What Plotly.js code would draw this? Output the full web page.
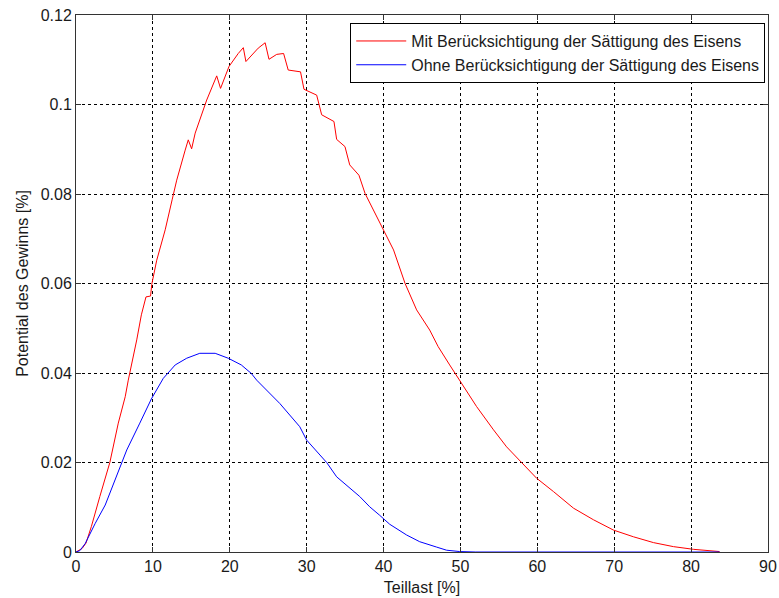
<!DOCTYPE html>
<html>
<head>
<meta charset="utf-8">
<script src="https://cdn.plot.ly/plotly-3.0.1.min.js"></script>
<style>html,body{margin:0;padding:0;background:#fff;}#chart{width:779px;height:598px;}</style>
</head>
<body>
<div id="chart"></div>
<script>
const seriesNames = ["Mit Berücksichtigung der Sättigung des Eisens", "Ohne Berücksichtigung der Sättigung des Eisens"];
const redX = [0, 0.8, 1.3, 2.0, 3.1, 4.4, 5.5, 6.4, 6.8, 7.0, 7.9, 8.5, 9.1, 9.7, 9.85, 10.5, 11.6, 12.5, 13.1, 14.2, 14.6, 15.04, 15.5, 17.0, 18.3, 18.8, 19.9, 21.1, 21.76, 22.1, 23.7, 24.6, 25.1, 26.1, 27.0, 27.6, 29.2, 29.65, 31.3, 31.95, 33.55, 33.9, 34.98, 35.6, 36.8, 37.6, 38.0, 39.5, 41.3, 42.8, 44.3, 46.0, 47.1, 48.6, 49.9, 52.1, 54.3, 56.0, 57.95, 59.9, 62.1, 64.7, 67.3, 69.9, 72.5, 75.1, 77.7, 80.3, 83.7];
const redY = [0, 0.0008, 0.002, 0.0057, 0.0124, 0.02, 0.0288, 0.0347, 0.0384, 0.040, 0.0474, 0.053, 0.057, 0.0572, 0.0598, 0.0652, 0.072, 0.0787, 0.0831, 0.0898, 0.0921, 0.0901, 0.0936, 0.101, 0.1064, 0.1036, 0.1085, 0.1114, 0.1127, 0.1096, 0.1126, 0.1138, 0.1101, 0.1112, 0.1114, 0.1077, 0.1073, 0.1034, 0.1021, 0.0977, 0.0962, 0.0922, 0.0906, 0.0865, 0.0842, 0.0801, 0.0787, 0.0735, 0.0675, 0.0600, 0.0541, 0.0496, 0.0459, 0.0418, 0.0384, 0.0325, 0.0273, 0.0235, 0.0200, 0.0165, 0.0135, 0.0098, 0.0072, 0.0049, 0.0034, 0.0021, 0.0012, 0.0006, 0.0001];
const blueX = [0, 0.5, 1.2, 2.5, 3.8, 4.8, 5.7, 6.6, 8.3, 9.8, 11.35, 12.9, 14.4, 16.1, 18.1, 19.8, 21.5, 22.8, 23.5, 24.8, 26.5, 29.1, 30.0, 32.6, 33.9, 36.9, 38.2, 39.5, 40.8, 43.0, 44.7, 46.9, 48.2, 49.9, 52.0, 83.7];
const blueY = [0, 0.0003, 0.0019, 0.0064, 0.0105, 0.0148, 0.0191, 0.0228, 0.0288, 0.0342, 0.0388, 0.0418, 0.0433, 0.0444, 0.0444, 0.0433, 0.0418, 0.0399, 0.0384, 0.0362, 0.0332, 0.0280, 0.0250, 0.0200, 0.0168, 0.0124, 0.0101, 0.0082, 0.0062, 0.0038, 0.0023, 0.0011, 0.0004, 0.0001, 0, 0];
const xTicks = [0, 10, 20, 30, 40, 50, 60, 70, 80, 90];
const yTicks = [0, 0.02, 0.04, 0.06, 0.08, 0.1, 0.12];
const xTitle = "Teillast [%]";
const yTitle = "Potential des Gewinns [%]";

const font = {family: "Liberation Sans, Arial, sans-serif", size: 16, color: "#1a1a1a"};
const traces = [
  {x: redX, y: redY, type: "scatter", mode: "lines", name: seriesNames[0], line: {color: "#ff0000", width: 1}},
  {x: blueX, y: blueY, type: "scatter", mode: "lines", name: seriesNames[1], line: {color: "#0000ff", width: 1}}
];
const axisCommon = {
  showline: true, mirror: "ticks", linecolor: "#333333", linewidth: 1,
  ticks: "inside", ticklen: 5, tickcolor: "#333333",
  showgrid: true, gridcolor: "#000000", gridwidth: 1, griddash: "3px,3px",
  zeroline: false, tickfont: font
};
const layout = {
  width: 779, height: 598,
  margin: {l: 76, r: 11, t: 15, b: 46},
  paper_bgcolor: "#ffffff", plot_bgcolor: "#ffffff",
  font: font,
  showlegend: true,
  legend: {x: 0.996, xanchor: "right", y: 0.985, yanchor: "top", bgcolor: "#ffffff",
           bordercolor: "#000000", borderwidth: 1, font: font, tracegroupgap: 0, itemwidth: 50},
  xaxis: Object.assign({}, axisCommon, {range: [0, 90], tickvals: xTicks, ticktext: xTicks.map(String),
           title: {text: xTitle, font: font, standoff: 7}}),
  yaxis: Object.assign({}, axisCommon, {range: [0, 0.12], tickvals: yTicks, ticktext: yTicks.map(String),
           title: {text: yTitle, font: font, standoff: 8}})
};
Plotly.newPlot("chart", traces, layout, {displayModeBar: false, staticPlot: true});
</script>
</body>
</html>
